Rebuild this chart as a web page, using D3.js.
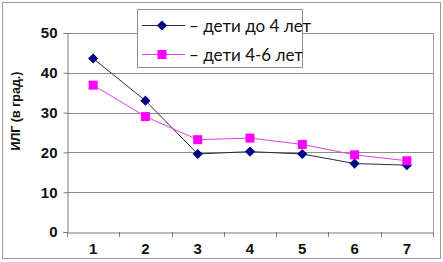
<!DOCTYPE html>
<html>
<head>
<meta charset="utf-8">
<script src="https://cdn.jsdelivr.net/npm/d3@7"></script>
<style>
  body { margin: 0; background: #fff; }
  svg { display: block; }
</style>
</head>
<body>
<div id="chart"></div>
<script>
    // data
    var categories = ["1", "2", "3", "4", "5", "6", "7"];
    var under4 = [43.6, 33.0, 19.6, 20.2, 19.6, 17.2, 16.8];
    var age4to6 = [36.9, 29.0, 23.2, 23.6, 22.0, 19.4, 17.9];
    var yTicks = [0, 10, 20, 30, 40, 50];
    var seriesNames = ["\u2013 дети до 4 лет", "\u2013 дети 4-6 лет"];
    var yLabel = "ИЛГ (в град.)";

    var width = 443, height = 262;
    var plot = {left: 67, right: 433, top: 33, bottom: 232};

    var svg = d3.select("#chart").append("svg")
        .attr("width", width).attr("height", height);

    // outer frame
    svg.append("rect")
        .attr("x", 2.5).attr("y", 2.5)
        .attr("width", width - 5).attr("height", height - 6)
        .attr("fill", "#fff").attr("stroke", "#9a9a9a").attr("stroke-width", 1);

    var x = d3.scaleBand().domain(categories).range([plot.left, plot.right]);
    var y = d3.scaleLinear().domain([0, 50]).range([plot.bottom, plot.top]);

    // plot area right border
    svg.append("line")
        .attr("x1", plot.right + 0.5).attr("x2", plot.right + 0.5)
        .attr("y1", y(50)).attr("y2", y(0))
        .attr("stroke", "#a0a0a0");

    // gridlines
    svg.append("g").selectAll("line").data(yTicks.filter(function(d) { return d > 0; }))
        .enter().append("line")
        .attr("x1", plot.left).attr("x2", plot.right)
        .attr("y1", function(d) { return Math.round(y(d)) + 0.5; })
        .attr("y2", function(d) { return Math.round(y(d)) + 0.5; })
        .attr("stroke", "#8c8c8c").attr("stroke-width", 1);

    // y axis
    var yAxis = svg.append("g")
        .attr("transform", "translate(" + (plot.left + 0.5) + ",0)")
        .call(d3.axisLeft(y).tickValues(yTicks).tickSize(4).tickPadding(6));
    yAxis.select(".domain").attr("stroke", "#7a7a7a");
    yAxis.selectAll(".tick line").attr("stroke", "#7a7a7a");
    yAxis.selectAll("text")
        .attr("font-family", "Liberation Sans, Arial, sans-serif")
        .attr("font-size", 15).attr("font-weight", "bold").attr("fill", "#111");

    // x axis
    var xAxis = svg.append("g")
        .attr("transform", "translate(0," + (plot.bottom + 0.5) + ")")
        .call(d3.axisBottom(x).tickSize(0).tickPadding(11));
    xAxis.select(".domain").attr("stroke", "#7a7a7a");
    xAxis.selectAll("text")
        .attr("font-family", "Liberation Sans, Arial, sans-serif")
        .attr("font-size", 15).attr("font-weight", "bold").attr("fill", "#111");
    // tick marks between categories
    svg.append("g").selectAll("line").data(categories.concat(["end"]))
        .enter().append("line")
        .attr("x1", function(d, i) { return Math.round(plot.left + i * x.bandwidth()) + 0.5; })
        .attr("x2", function(d, i) { return Math.round(plot.left + i * x.bandwidth()) + 0.5; })
        .attr("y1", plot.bottom).attr("y2", plot.bottom + 5)
        .attr("stroke", "#7a7a7a");

    // y label
    svg.append("text")
        .attr("transform", "translate(20,111) rotate(-90)")
        .attr("text-anchor", "middle")
        .attr("font-family", "Liberation Sans, Arial, sans-serif")
        .attr("font-size", 12.5).attr("font-weight", "bold").attr("fill", "#111")
        .text(yLabel);

    var cx = function(d, i) { return x(categories[i]) + x.bandwidth() / 2; };
    var line = d3.line().x(cx).y(function(d) { return y(d); });

    // series 1: diamonds
    svg.append("path").datum(under4)
        .attr("d", line).attr("fill", "none")
        .attr("stroke", "#2b2b4a").attr("stroke-width", 1);
    svg.append("g").selectAll("path").data(under4)
        .enter().append("path")
        .attr("transform", function(d, i) { return "translate(" + cx(d, i) + "," + y(d) + ") rotate(45)"; })
        .attr("d", "M-3.6,-3.6H3.6V3.6H-3.6Z")
        .attr("fill", "#000080");

    // series 2: squares
    svg.append("path").datum(age4to6)
        .attr("d", line).attr("fill", "none")
        .attr("stroke", "#e040e0").attr("stroke-width", 1);
    svg.append("g").selectAll("rect").data(age4to6)
        .enter().append("rect")
        .attr("x", function(d, i) { return cx(d, i) - 4.5; })
        .attr("y", function(d) { return y(d) - 4.5; })
        .attr("width", 9).attr("height", 9)
        .attr("fill", "#ff00ff");

    // legend
    var legend = svg.append("g");
    legend.append("rect")
        .attr("x", 137.5).attr("y", 9.5).attr("width", 165).attr("height", 58)
        .attr("fill", "#fff").attr("stroke", "#8c8c8c");
    var items = [
        {name: seriesNames[0], color: "#000080", line: "#2b2b4a", shape: "diamond"},
        {name: seriesNames[1], color: "#ff00ff", line: "#e040e0", shape: "square"}
    ];
    var rows = legend.selectAll("g").data(items).enter().append("g")
        .attr("transform", function(d, i) { return "translate(0," + (25.5 + i * 29) + ")"; });
    rows.append("line")
        .attr("x1", 142).attr("x2", 185).attr("y1", 0).attr("y2", 0)
        .attr("stroke", function(d) { return d.line; });
    rows.append("path")
        .attr("transform", function(d) { return "translate(162,0)" + (d.shape === "diamond" ? " rotate(45)" : ""); })
        .attr("d", function(d) { return d.shape === "diamond" ? "M-3.6,-3.6H3.6V3.6H-3.6Z" : "M-4.5,-4.5H4.5V4.5H-4.5Z"; })
        .attr("fill", function(d) { return d.color; });
    rows.append("text")
        .attr("x", 189).attr("y", 6)
        .attr("font-family", "Lato, 'Open Sans', sans-serif")
        .attr("font-size", 17).attr("fill", "#111")
        .text(function(d) { return d.name; });
</script>
</body>
</html>
